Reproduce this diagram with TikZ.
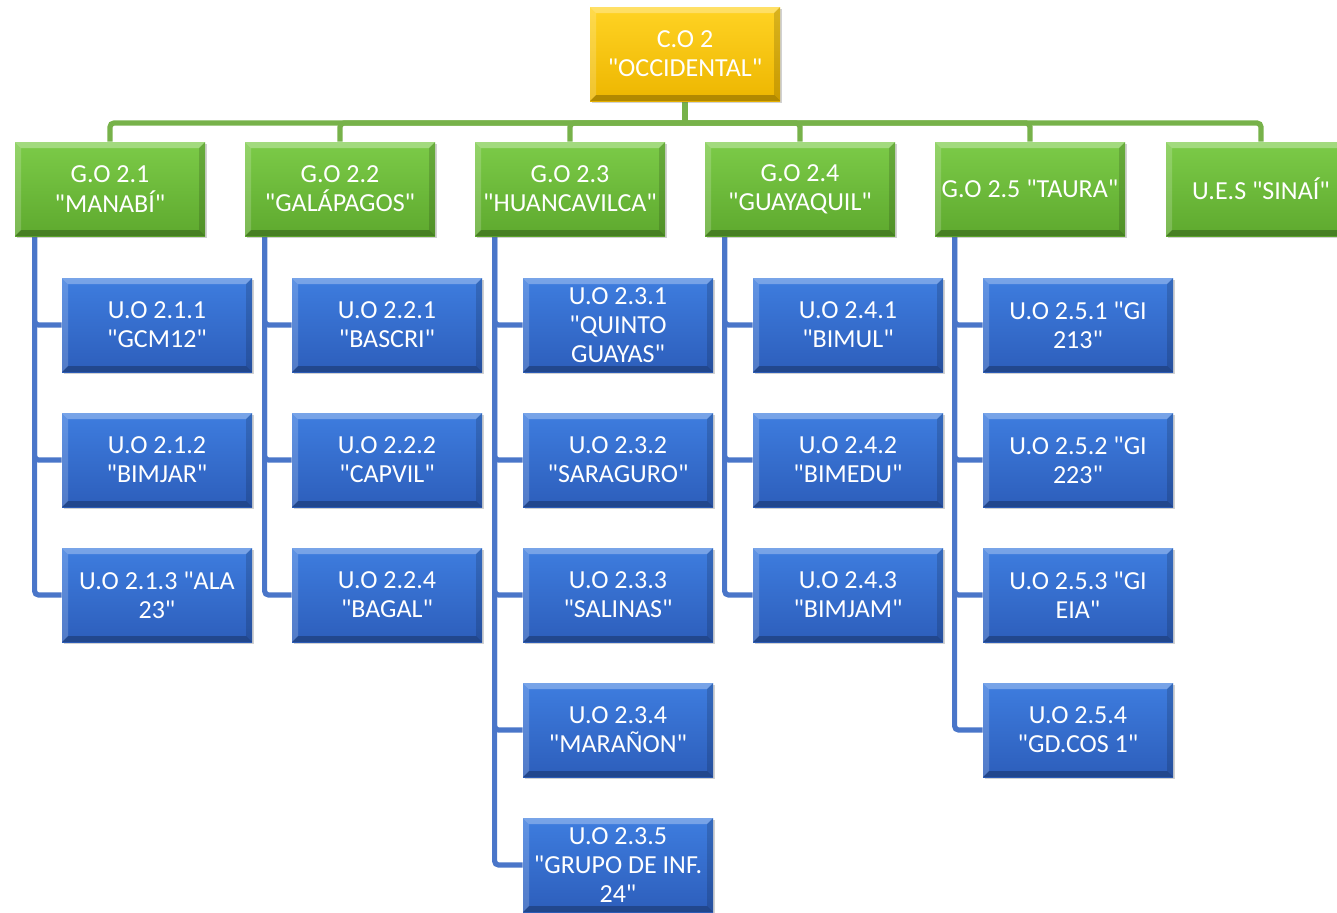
\documentclass[tikz,border=0pt]{standalone}
\usepackage{fontspec}
\setmainfont{Carlito}[Ligatures=TeXOff]
\usetikzlibrary{shadows,backgrounds}
\definecolor{gtop}{HTML}{7CCB48}
\definecolor{gbot}{HTML}{5EA92E}
\definecolor{btop}{HTML}{3E7DDF}
\definecolor{bbot}{HTML}{2D5EBB}
\definecolor{ytop}{HTML}{FFD324}
\definecolor{ybot}{HTML}{EDB600}
\definecolor{gline}{HTML}{77B24A}
\definecolor{bline}{HTML}{4A76C9}
\tikzset{
  bevel/.style={path picture={
    \fill[white,opacity=0.30] (path picture bounding box.north west) -- (path picture bounding box.north east)
      -- ([xshift=-3pt,yshift=-3pt]path picture bounding box.north east) -- ([xshift=3pt,yshift=-3pt]path picture bounding box.north west) -- cycle;
    \fill[white,opacity=0.18] (path picture bounding box.north west) -- ([xshift=3pt,yshift=-3pt]path picture bounding box.north west)
      -- ([xshift=3pt,yshift=3pt]path picture bounding box.south west) -- (path picture bounding box.south west) -- cycle;
    \fill[black,opacity=0.25] (path picture bounding box.south west) -- (path picture bounding box.south east)
      -- ([xshift=-3pt,yshift=3pt]path picture bounding box.south east) -- ([xshift=3pt,yshift=3pt]path picture bounding box.south west) -- cycle;
    \fill[black,opacity=0.15] (path picture bounding box.north east) -- ([xshift=-3pt,yshift=-3pt]path picture bounding box.north east)
      -- ([xshift=-3pt,yshift=3pt]path picture bounding box.south east) -- (path picture bounding box.south east) -- cycle;
  }},
  box/.style={minimum width=95pt, minimum height=47pt, inner sep=0pt, align=center,
    text=white, font=\fontsize{13pt}{14.6pt}\selectfont, bevel,
    drop shadow={shadow xshift=1.2pt, shadow yshift=-1.2pt, opacity=0.3, fill=black!60}},
  gbox/.style={box, top color=gtop, bottom color=gbot},
  bbox/.style={box, top color=btop, bottom color=bbot},
  ybox/.style={box, top color=ytop, bottom color=ybot},
  glink/.style={draw=gline, line width=2.6pt, rounded corners=2pt},
  blink/.style={draw=bline, line width=2.6pt, rounded corners=2pt},
}
\begin{document}
\begin{tikzpicture}[x=0.5pt,y=-0.5pt]
\useasboundingbox (0,0) rectangle (1337,912);
\clip (0,0) rectangle (1337,912);
% top
\node[ybox] (co) at (685,54) {C.O 2\\"OCCIDENTAL"};
% groups
\node[gbox] (g1) at (110,189) {G.O 2.1\\"MANABÍ"};
\node[gbox] (g2) at (340,189) {G.O 2.2\\"GALÁPAGOS"};
\node[gbox] (g3) at (570,189) {G.O 2.3\\"HUANCAVILCA"};
\node[gbox] (g4) at (800,189) {G.O 2.4\\"GUAYAQUIL"};
\node[gbox] (g5) at (1030,189) {G.O 2.5 "TAURA"};
\node[gbox] (g6) at (1261,189) {U.E.S "SINAÍ"};
\coordinate (bar) at (685,123);
% units
\node[bbox] (u11) at (157,325) {U.O 2.1.1\\"GCM12"};
\node[bbox] (u12) at (157,460) {U.O 2.1.2\\"BIMJAR"};
\node[bbox] (u13) at (157,595) {U.O 2.1.3 "ALA\\23"};
\node[bbox] (u21) at (387,325) {U.O 2.2.1\\"BASCRI"};
\node[bbox] (u22) at (387,460) {U.O 2.2.2\\"CAPVIL"};
\node[bbox] (u24) at (387,595) {U.O 2.2.4\\"BAGAL"};
\node[bbox] (u31) at (618,325) {U.O 2.3.1\\"QUINTO\\GUAYAS"};
\node[bbox] (u32) at (618,460) {U.O 2.3.2\\"SARAGURO"};
\node[bbox] (u33) at (618,595) {U.O 2.3.3\\"SALINAS"};
\node[bbox] (u34) at (618,730) {U.O 2.3.4\\"MARAÑON"};
\node[bbox] (u35) at (618,865) {U.O 2.3.5\\"GRUPO DE INF.\\24"};
\node[bbox] (u41) at (848,325) {U.O 2.4.1\\"BIMUL"};
\node[bbox] (u42) at (848,460) {U.O 2.4.2\\"BIMEDU"};
\node[bbox] (u43) at (848,595) {U.O 2.4.3\\"BIMJAM"};
\node[bbox] (u51) at (1078,325) {U.O 2.5.1 "GI\\213"};
\node[bbox] (u52) at (1078,460) {U.O 2.5.2 "GI\\223"};
\node[bbox] (u53) at (1078,595) {U.O 2.5.3 "GI\\EIA"};
\node[bbox] (u54) at (1078,730) {U.O 2.5.4\\"GD.COS 1"};
% connectors
\begin{scope}[on background layer]
\draw[glink] (co.south) -- (bar);
\foreach \g in {g1,g2,g3,g4,g5,g6} \draw[glink] (bar) -| (\g.north);
\foreach \g/\u in {g1/u11,g1/u12,g1/u13,g2/u21,g2/u22,g2/u24,g3/u31,g3/u32,g3/u33,g3/u34,g3/u35,g4/u41,g4/u42,g4/u43,g5/u51,g5/u52,g5/u53,g5/u54}
  \draw[blink] ([xshift=10pt]\g.south west) |- (\u.west);
\end{scope}
\end{tikzpicture}
\end{document}
